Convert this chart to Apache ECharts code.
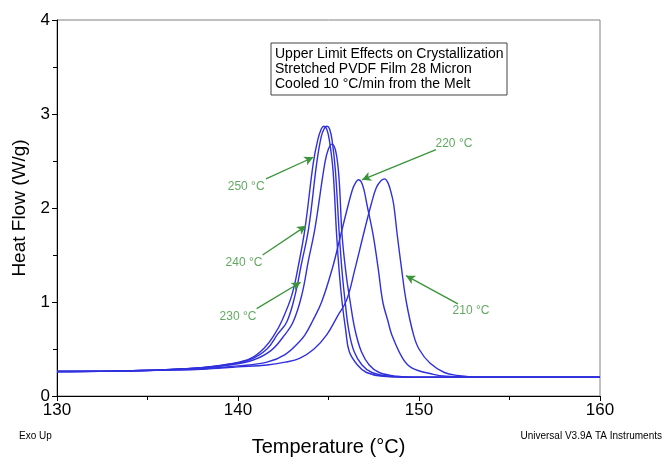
<!DOCTYPE html>
<html>
<head>
<meta charset="utf-8">
<script src="https://cdn.jsdelivr.net/npm/echarts@6/dist/echarts.min.js"></script>
<style>
  html, body { margin: 0; padding: 0; background: #fff; }
  #chart { width: 664px; height: 462px; }
</style>
</head>
<body>
<div id="chart"></div>
<script>
// temperature (°C), heat flow (W/g)
const curve250 = [[130,0.26],[133,0.265],[136,0.28],[138,0.30],[139.5,0.34],[140.7,0.40],[141.5,0.52],[142.0,0.65],[142.4,0.79],[142.97,1.07],[143.35,1.40],[143.7,1.78],[144.16,2.48],[144.4,2.72],[144.6,2.84],[144.75,2.87],[144.9,2.84],[145.05,2.72],[145.25,2.40],[145.45,1.71],[145.6,1.30],[145.75,1.0],[145.95,0.70],[146.15,0.47],[146.6,0.33],[147.1,0.25],[148.0,0.21],[150,0.2],[160,0.2]];
const curve240 = [[130,0.26],[133,0.265],[136,0.28],[138,0.30],[139.5,0.335],[140.7,0.39],[141.6,0.50],[142.2,0.66],[142.7,0.79],[143.15,1.07],[143.5,1.40],[143.9,1.78],[144.35,2.48],[144.6,2.76],[144.78,2.85],[144.92,2.87],[145.06,2.84],[145.2,2.72],[145.38,2.40],[145.6,1.71],[145.76,1.30],[145.92,1.0],[146.12,0.70],[146.42,0.47],[146.85,0.33],[147.4,0.25],[148.3,0.21],[150,0.2],[160,0.2]];
const curve230 = [[130,0.26],[133,0.265],[136,0.28],[138,0.30],[139.5,0.33],[140.8,0.38],[141.8,0.48],[142.5,0.63],[143.05,0.79],[143.52,1.07],[143.9,1.45],[144.25,1.78],[144.8,2.48],[145.0,2.63],[145.2,2.68],[145.38,2.62],[145.52,2.45],[145.62,2.2],[145.75,1.71],[145.97,1.30],[146.2,1.0],[146.47,0.70],[146.82,0.47],[147.25,0.33],[147.8,0.25],[148.8,0.21],[150,0.2],[160,0.2]];
const curve220 = [[130,0.26],[133,0.265],[136,0.275],[138,0.29],[140,0.32],[141.6,0.36],[142.6,0.44],[143.4,0.58],[143.7,0.65],[144.1,0.79],[144.62,1.0],[145.23,1.37],[145.67,1.71],[146.1,2.04],[146.33,2.20],[146.5,2.27],[146.65,2.30],[146.8,2.28],[146.95,2.20],[147.12,2.04],[147.47,1.71],[147.75,1.35],[148.0,1.0],[148.28,0.8],[148.5,0.65],[149.1,0.40],[149.6,0.30],[150.8,0.23],[151.5,0.21],[153,0.2],[160,0.2]];
const curve210 = [[130,0.26],[133,0.265],[136,0.275],[138,0.285],[140,0.31],[141.6,0.33],[142.6,0.36],[143.4,0.40],[144.2,0.50],[144.9,0.65],[145.5,0.85],[146.0,1.02],[146.46,1.35],[146.92,1.71],[147.36,2.04],[147.65,2.22],[147.9,2.29],[148.1,2.31],[148.28,2.27],[148.45,2.17],[148.6,2.04],[148.8,1.71],[149.04,1.35],[149.3,1.0],[149.7,0.65],[150.0,0.5],[150.6,0.35],[151.4,0.25],[152.1,0.22],[153.5,0.2],[160,0.2]];

const curveNames = ['250 °C', '240 °C', '230 °C', '220 °C', '210 °C'];
const curves = [curve250, curve240, curve230, curve220, curve210];

// annotations: label spot, arrow tail, arrow head
const labelAt = [[140.45,2.23],[140.33,1.42],[140.0,0.84],[151.93,2.68],[152.87,0.91]];
const arrowFrom = [[141.55,2.31],[141.36,1.50],[141.03,0.93],[150.94,2.62],[152.15,0.98]];
const arrowTo = [[144.16,2.54],[143.76,1.81],[143.46,1.21],[146.85,2.30],[149.28,1.28]];

const xTicks = [130, 140, 150, 160];
const yTicks = [0, 1, 2, 3, 4];
const noteLines = ['Upper Limit Effects on Crystallization', 'Stretched PVDF Film 28 Micron', 'Cooled 10 °C/min from the Melt'];

const blue = '#3030dc';
const green = '#3a943a';
const font = 'Liberation Sans, Arial, sans-serif';

const series = curves.map((d, i) => ({
  name: curveNames[i],
  type: 'line',
  data: d,
  smooth: 0.4,
  showSymbol: false,
  lineStyle: { color: blue, width: 1.4 },
  silent: true
}));

series.push({
  type: 'scatter',
  data: labelAt.map((p, i) => ({ value: p, name: curveNames[i] })),
  symbolSize: 0,
  silent: true,
  label: {
    show: true,
    position: 'inside',
    formatter: '{b}',
    color: green,
    fontSize: 12,
    fontFamily: font
  },
  markLine: {
    silent: true,
    symbol: ['none', 'arrow'],
    symbolSize: [7, 9],
    label: { show: false },
    lineStyle: { color: green, width: 1.3, type: 'solid' },
    data: arrowFrom.map((p, i) => [{ coord: p }, { coord: arrowTo[i] }])
  }
});

const option = {
  animation: false,
  grid: {
    left: 57, right: 64, top: 20, bottom: 64,
    show: true, borderColor: '#808080', borderWidth: 1
  },
  xAxis: {
    type: 'value',
    min: xTicks[0], max: xTicks[xTicks.length - 1], interval: 10,
    name: 'Temperature (°C)',
    nameLocation: 'middle',
    nameGap: 41,
    nameTextStyle: { color: '#000', fontSize: 20, fontFamily: font },
    axisLine: { lineStyle: { color: '#000', width: 1 } },
    axisTick: { length: 5, lineStyle: { color: '#000' } },
    minorTick: { show: true, splitNumber: 2, length: 4, lineStyle: { color: '#000' } },
    axisLabel: { color: '#000', fontSize: 17, fontFamily: font, margin: 6 },
    splitLine: { show: false }
  },
  yAxis: {
    type: 'value',
    min: yTicks[0], max: yTicks[yTicks.length - 1], interval: 1,
    name: 'Heat Flow (W/g)',
    nameLocation: 'middle',
    nameGap: 25,
    nameTextStyle: { color: '#000', fontSize: 19, fontFamily: font },
    axisLine: { show: true, lineStyle: { color: '#000', width: 1 } },
    axisTick: { show: true, length: 5, lineStyle: { color: '#000' } },
    minorTick: { show: true, splitNumber: 2, length: 4, lineStyle: { color: '#000' } },
    axisLabel: { color: '#000', fontSize: 17, fontFamily: font, margin: 7 },
    splitLine: { show: false }
  },
  graphic: [
    {
      type: 'rect',
      shape: { x: 271, y: 43, width: 236, height: 52 },
      style: { fill: '#fff', stroke: '#444', lineWidth: 1 },
      z: 10
    },
    {
      type: 'text',
      left: 275, top: 47,
      style: {
        text: noteLines.join('\n'),
        font: '14px ' + font,
        lineHeight: 15,
        fill: '#000'
      },
      z: 11
    },
    {
      type: 'text',
      left: 19, top: 431,
      style: { text: 'Exo Up', font: '10px ' + font, fill: '#000' }
    },
    {
      type: 'text',
      right: 2, top: 431,
      style: { text: 'Universal V3.9A TA Instruments', font: '10px ' + font, fill: '#000' }
    }
  ],
  series: series
};

const myChart = echarts.init(document.getElementById('chart'));
myChart.setOption(option);
window.addEventListener('resize', () => {
  myChart.resize();
});
</script>
</body>
</html>
